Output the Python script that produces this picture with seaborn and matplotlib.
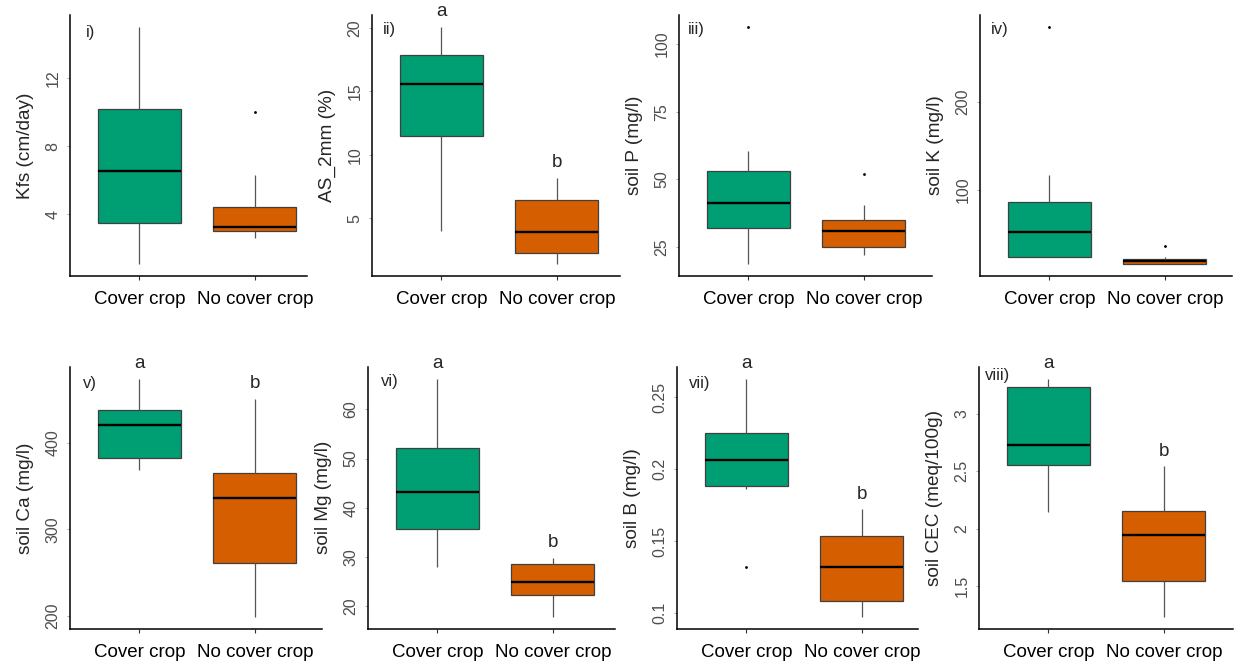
import numpy as np
import pandas as pd
import matplotlib
matplotlib.use("Agg")
import matplotlib.pyplot as plt
import seaborn as sns

# ---------------- data ----------------
groups = ["Cover crop", "No cover crop"]
box_colors = ["#009E73", "#D55E00"]

kfs_cover = [1.06, 2.3, 3.5, 5.2, 6.55, 8.4, 10.2, 12.5, 15.0]
kfs_nocover = [2.62, 2.9, 3.02, 3.15, 3.25, 3.9, 4.41, 6.3, 10.0]

as_cover = [4.03, 8.5, 11.45, 13.8, 15.58, 16.9, 17.87, 19.0, 20.07]
as_nocover = [1.4, 1.9, 2.29, 3.1, 3.95, 5.2, 6.42, 7.3, 8.19]

p_cover = [18.6, 26.0, 31.8, 37.0, 41.4, 47.5, 53.1, 60.5, 106.4]
p_nocover = [21.9, 23.5, 25.0, 28.0, 30.7, 33.0, 34.9, 40.5, 51.9]

k_cover = [23.7, 24.1, 24.5, 38.0, 52.0, 70.0, 86.8, 117.3, 285.0]
k_nocover = [16.0, 16.1, 16.2, 17.6, 19.1, 20.5, 21.9, 23.7, 37.0]

ca_cover = [368.0, 375.0, 382.2, 402.0, 420.0, 430.0, 438.0, 456.0, 473.8]
ca_nocover = [198.8, 230.0, 260.8, 300.0, 336.1, 352.0, 365.4, 410.0, 450.0]

mg_cover = [28.1, 32.0, 35.65, 39.5, 43.25, 48.0, 52.05, 60.0, 66.2]
mg_nocover = [17.85, 20.0, 22.3, 23.7, 25.0, 27.0, 28.6, 29.2, 29.8]

b_cover = [0.1319, 0.1863, 0.1886, 0.197, 0.2065, 0.216, 0.2251, 0.245, 0.263]
b_nocover = [0.0972, 0.103, 0.1086, 0.120, 0.1319, 0.143, 0.1533, 0.163, 0.1721]

cec_cover = [2.145, 2.35, 2.554, 2.64, 2.731, 2.98, 3.232, 3.27, 3.305]
cec_nocover = [1.23, 1.39, 1.547, 1.75, 1.945, 2.05, 2.153, 2.35, 2.542]

panel_labels = ["i)", "ii)", "iii)", "iv)", "v)", "vi)", "vii)", "viii)"]
y_labels = ["Kfs (cm/day)", "AS_2mm (%)", "soil P (mg/l)", "soil K (mg/l)",
            "soil Ca (mg/l)", "soil Mg (mg/l)", "soil B (mg/l)", "soil CEC (meq/100g)"]
y_ticks = [[4, 8, 12], [5, 10, 15, 20], [25, 50, 75, 100], [100, 200],
           [200, 300, 400], [20, 30, 40, 50, 60], [0.1, 0.15, 0.2, 0.25], [1.5, 2, 2.5, 3]]
sig_letters = [None, ("a", "b"), None, None, ("a", "b"), ("a", "b"), ("a", "b"), ("a", "b")]

cover_data = [kfs_cover, as_cover, p_cover, k_cover, ca_cover, mg_cover, b_cover, cec_cover]
nocover_data = [kfs_nocover, as_nocover, p_nocover, k_nocover, ca_nocover, mg_nocover, b_nocover, cec_nocover]

# ---------------- layout (pixels of the 1239x662 canvas) ----------------
W, H = 1239, 662
row_y = [(15, 276), (366.7, 629)]
col_x = [(70, 307), (372, 620), (679, 932), (980, 1232),
         (70, 322), (368, 615), (677, 918), (979, 1233)]
unit_px = 115.5
label_off = [(16, 17), (11, 14), (9, 14), (11, 14), (13, 17), (13, 15), (12, 17), (6, 9)]

sns.set_style("ticks")
plt.rcParams["font.family"] = ["Liberation Sans", "DejaVu Sans"]

fig = plt.figure(figsize=(W / 100, H / 100), dpi=100)

for i in range(8):
    r = i // 4
    x0, x1 = col_x[i]
    top, bot = row_y[r]
    ax = fig.add_axes([x0 / W, 1 - bot / H, (x1 - x0) / W, (bot - top) / H])

    cov, noc = cover_data[i], nocover_data[i]
    df = pd.DataFrame({"group": [groups[0]] * len(cov) + [groups[1]] * len(noc),
                       "value": cov + noc})
    sns.boxplot(data=df, x="group", y="value", hue="group", order=groups,
                hue_order=groups, palette=box_colors, legend=False, saturation=1,
                width=0.72, showcaps=False, linewidth=0.9, linecolor="#404040",
                fliersize=1.0, ax=ax,
                medianprops=dict(color="black", linewidth=1.7),
                whiskerprops=dict(color="#555555", linewidth=0.9),
                flierprops=dict(marker="o", markerfacecolor="black",
                                markeredgecolor="black"))

    allv = np.array(cov + noc)
    lo, hi = allv.min(), allv.max()
    pad = 0.05 * (hi - lo)
    ax.set_ylim(lo - pad, hi + pad)
    ax.set_xlim(-0.6, (x1 - x0) / unit_px - 0.6)

    ax.set_yticks(y_ticks[i])
    ax.set_yticklabels([f"{t:g}" for t in y_ticks[i]], rotation=90, va="center")
    ax.tick_params(axis="y", length=2, width=0.6, color="#999999",
                   labelsize=11.5, labelcolor="#4d4d4d", pad=5)
    ax.tick_params(axis="x", length=3, width=0.8, color="#333333",
                   labelsize=13.5, labelcolor="black", pad=8)
    ax.set_xlabel("")
    ax.set_ylabel(y_labels[i], fontsize=13.7, labelpad=8)
    sns.despine(ax=ax)
    for s in ("left", "bottom"):
        ax.spines[s].set_linewidth(1.1)
        ax.spines[s].set_color("black")

    dx, dy = label_off[i]
    ax.annotate(panel_labels[i], xy=(0, 1), xycoords="axes fraction",
                xytext=(dx * 0.72, -dy * 0.72), textcoords="offset points",
                ha="left", va="center", fontsize=12)

    if sig_letters[i] is not None:
        for j, vals in enumerate([cov, noc]):
            v = np.sort(np.array(vals))
            q1, q3 = np.percentile(v, [25, 75])
            whi = v[v <= q3 + 1.5 * (q3 - q1)].max()
            ax.annotate(sig_letters[i][j], xy=(j, whi), xycoords="data",
                        xytext=(0, 11), textcoords="offset points",
                        ha="center", va="center", fontsize=13.5,
                        annotation_clip=False)

fig.savefig("out.png", dpi=100)
